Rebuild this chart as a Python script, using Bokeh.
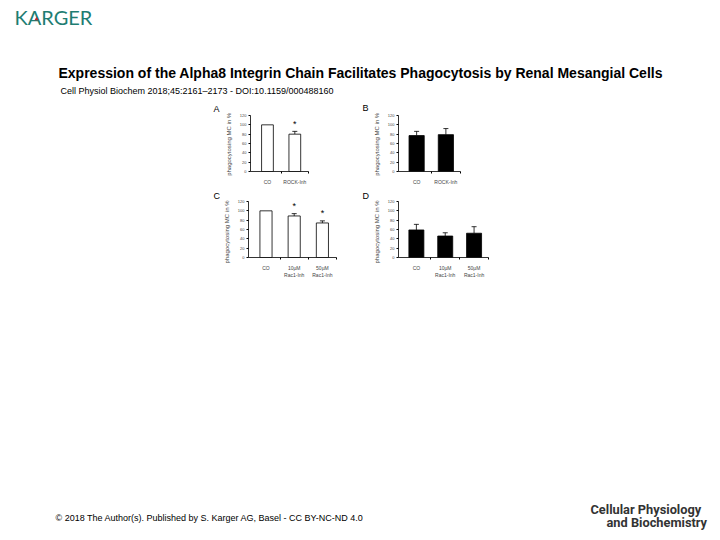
from bokeh.plotting import figure
from bokeh.layouts import column, row
from bokeh.models import Range1d, FixedTicker, ColumnDataSource, Whisker, TeeHead
from bokeh.core.properties import value
from bokeh.embed import file_html
from bokeh.resources import INLINE

FONT = "Liberation Sans"

# ---------------- data ----------------
title_text = "Expression of the Alpha8 Integrin Chain Facilitates Phagocytosis by Renal Mesangial Cells"
citation_text = "Cell Physiol Biochem 2018;45:2161\u20132173 -  DOI:10.1159/000488160"
footer_text = "\u00a9 2018 The Author(s). Published by S. Karger AG, Basel - CC BY-NC-ND 4.0"
y_label = "phagocytosing MC  in %"
y_ticks = [0, 20, 40, 60, 80, 100, 120]
panel_letters = ["A", "B", "C", "D"]

cats_AB = ["CO", "ROCK-Inh"]
cats_CD = ["CO", "10\u00b5M\nRac1-Inh", "50\u00b5M\nRac1-Inh"]

vals_A = [100, 80]
err_A = [0, 6]
sig_A = [False, True]

vals_B = [77, 79]
err_B = [9, 13]
sig_B = [False, False]

vals_C = [100, 89, 74]
err_C = [0, 5, 4.5]
sig_C = [False, True, True]

vals_D = [59, 46, 52]
err_D = [12, 7, 14]
sig_D = [False, False, False]

X0 = -0.62
BL = 28


def panel(cats, vals, errs, sig, fill, frame_w, bar_w, br, bt, bb, label_pad, frame_h=56):
    n = len(cats)
    xs = list(range(n))
    x1 = n - 0.5
    p = figure(width=BL + frame_w + br, height=bt + frame_h + bb,
               x_range=Range1d(X0, x1), y_range=Range1d(y_ticks[0], y_ticks[-1]),
               output_backend="svg", toolbar_location=None, title=None, frame_align=False,
               min_border_left=BL, min_border_right=br, min_border_top=bt, min_border_bottom=bb)
    p.outline_line_color = None
    p.grid.visible = False
    p.background_fill_color = "white"
    p.border_fill_color = "white"

    src = ColumnDataSource(dict(x=xs, top=vals))
    p.vbar(x="x", top="top", width=bar_w, source=src, fill_color=fill,
           line_color="black", line_width=0.8)

    ex = [x for x, e in zip(xs, errs) if e > 0]
    elo = [v for v, e in zip(vals, errs) if e > 0]
    ehi = [v + e for v, e in zip(vals, errs) if e > 0]
    if ex:
        esrc = ColumnDataSource(dict(base=ex, lower=elo, upper=ehi))
        w = Whisker(source=esrc, base="base", lower="lower", upper="upper",
                    line_color="black", line_width=0.8,
                    upper_head=TeeHead(size=5, line_color="black", line_width=0.8),
                    lower_head=None)
        p.add_layout(w)

    sx = [x for x, s in zip(xs, sig) if s]
    sy = [v + e + 16 for v, e, s in zip(vals, errs, sig) if s]
    if sx:
        p.text(x=sx, y=sy, text=["*"] * len(sx), text_font=value(FONT), text_font_size="9px",
               text_align="center", text_baseline="middle", text_color="black")

    ya = p.yaxis[0]
    ya.ticker = FixedTicker(ticks=y_ticks, minor_ticks=[])
    ya.major_label_text_font = FONT
    ya.major_label_text_font_size = "4px"
    ya.major_tick_out = 2
    ya.major_tick_in = 0
    ya.minor_tick_out = 0
    ya.minor_tick_in = 0
    ya.major_label_standoff = 2
    ya.axis_line_width = 0.8
    ya.axis_label = y_label + "\u00a0" * label_pad
    ya.axis_label_text_font = FONT
    ya.axis_label_text_font_size = "6px"
    ya.axis_label_text_font_style = "normal"
    ya.axis_label_standoff = 5

    xa = p.xaxis[0]
    xa.ticker = FixedTicker(ticks=xs, minor_ticks=[x + 0.5 for x in xs])
    xa.major_label_overrides = {i: c for i, c in enumerate(cats)}
    xa.major_label_text_font = FONT
    xa.major_label_text_font_size = "5px"
    xa.major_tick_out = 0
    xa.major_tick_in = 0
    xa.minor_tick_out = 2
    xa.minor_tick_in = 0
    xa.major_label_standoff = 5
    xa.axis_line_width = 0.8
    return p


def blank(x0, w, y0, h):
    # data coordinates of the frame equal page pixel coordinates
    f = figure(width=w, height=h, x_range=Range1d(x0, x0 + w),
               y_range=Range1d(y0 + h, y0),
               output_backend="svg", toolbar_location=None, title=None, frame_align=False,
               x_axis_location=None, y_axis_location=None, min_border=0)
    f.grid.visible = False
    f.outline_line_color = None
    return f


def letter(f, txt, x, y):
    f.text(x=[x], y=[y], text=[txt], text_font=value(FONT), text_font_size="9px",
           text_color="black", text_baseline="middle", text_align="left")


# row1 page y 100..188 (frame 115..171), row2 188..282 (frame 201..257)
pA = panel(cats_AB, vals_A, err_A, sig_A, "white", 58, 0.43, 20, 15, 17, 0)   # x 222..328
pB = panel(cats_AB, vals_B, err_B, sig_B, "black", 62, 0.52, 40, 15, 17, 0)   # x 370..
pC = panel(cats_CD, vals_C, err_C, sig_C, "white", 88, 0.43, 15, 13, 25, 2)   # x 220..351
pD = panel(cats_CD, vals_D, err_D, sig_D, "black", 90, 0.52, 30, 13, 25, 2)   # x 370..

sA = blank(0, 222, 100, 88)
letter(sA, panel_letters[0], 213, 108.5)
sB = blank(328, 42, 100, 88)
letter(sB, panel_letters[1], 362, 107.5)
sC = blank(0, 220, 188, 94)
letter(sC, panel_letters[2], 213, 195.5)
sD = blank(351, 19, 188, 94)
letter(sD, panel_letters[3], 362, 195)

hdr = blank(0, 712, 0, 100)
hdr.text(x=[14], y=[16], text=["KARGER"], text_font=value("Lato"), text_font_size="20px",
         text_color="#1e7d72", text_baseline="middle", text_align="left")
hdr.scatter(x=[36], y=[18.5], marker="triangle", size=4, fill_color="#c0282d", line_color=None)
hdr.text(x=[58], y=[72], text=[title_text], text_font=value(FONT), text_font_size="14px",
         text_font_style="bold", text_color="black", text_baseline="middle", text_align="left")
hdr.text(x=[60], y=[90], text=[citation_text], text_font=value(FONT), text_font_size="9px",
         text_color="black", text_baseline="middle", text_align="left")

ftr = blank(0, 712, 282, 250)
ftr.text(x=[55], y=[517], text=[footer_text], text_font=value(FONT), text_font_size="9px",
         text_color="black", text_baseline="middle", text_align="left")
ftr.text(x=[590], y=[509], text=["Cellular Physiology"],
         text_font=value("Roboto"), text_font_size="12.8px", text_font_style="bold",
         text_color="#333333", text_baseline="middle", text_align="left")
ftr.text(x=[606], y=[522], text=["and Biochemistry"],
         text_font=value("Roboto"), text_font_size="12.8px", text_font_style="bold",
         text_color="#333333", text_baseline="middle", text_align="left")

row1 = row(sA, pA, sB, pB)
row2 = row(sC, pC, sD, pD)
layout = column(hdr, row1, row2, ftr)

open("out.html", "w").write(file_html(layout, INLINE))
